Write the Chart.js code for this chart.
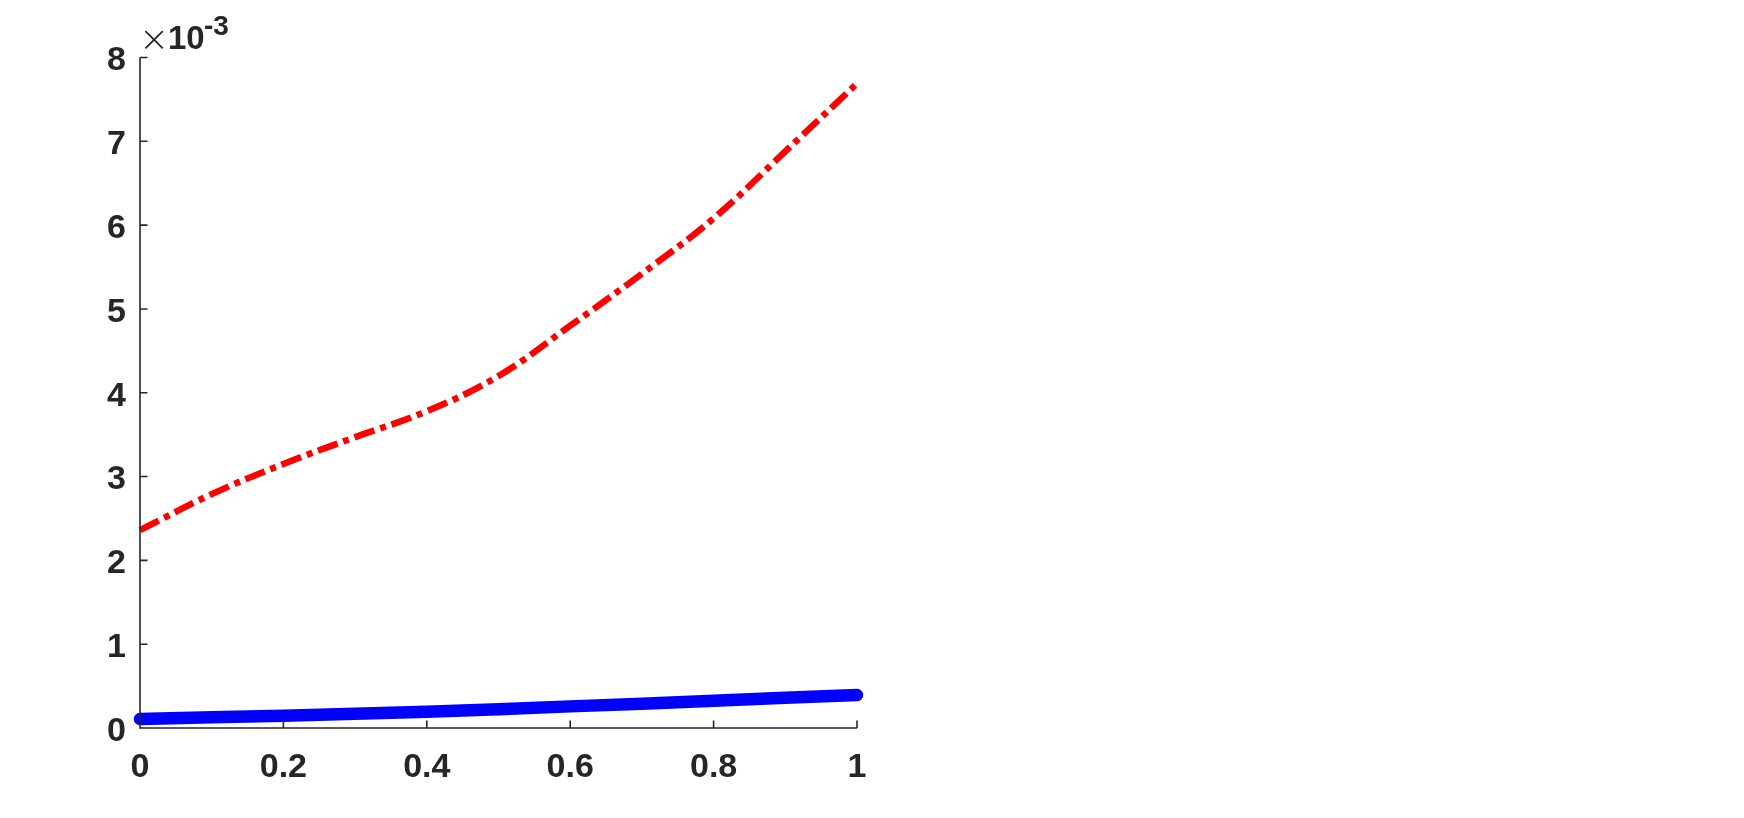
<!DOCTYPE html>
<html>
<head>
<meta charset="utf-8">
<script src="https://cdn.jsdelivr.net/npm/chart.js@4/dist/chart.umd.min.js"></script>
<style>
  html, body { margin: 0; padding: 0; background: #ffffff; }
  #wrap { width: 1744px; height: 818px; position: relative; }
</style>
</head>
<body>
<div id="wrap"><canvas id="c" width="1744" height="818"></canvas></div>
<script>
// ---- data (y values in units of 10^-3) ----
const Y_EXPONENT = -3;
const redX   = [0, 0.1, 0.2, 0.3, 0.4, 0.5, 0.6, 0.7, 0.8, 0.9, 1.0];
const redY   = [2.36, 2.79, 3.15, 3.47, 3.78, 4.20, 4.80, 5.42, 6.08, 6.88, 7.69];
const blueX  = [0, 0.1, 0.2, 0.3, 0.4, 0.5, 0.6, 0.7, 0.8, 0.9, 1.0];
const blueY  = [0.107, 0.127, 0.147, 0.170, 0.195, 0.225, 0.258, 0.290, 0.325, 0.360, 0.394];
const xTicks = [0, 0.2, 0.4, 0.6, 0.8, 1];
const xTickLabels = ['0', '0.2', '0.4', '0.6', '0.8', '1'];
const yTicks = [0, 1, 2, 3, 4, 5, 6, 7, 8];
const yTickLabels = ['0', '1', '2', '3', '4', '5', '6', '7', '8'];

const AXIS_COLOR = '#262626';
const FONT = '"Liberation Sans", Arial, Helvetica, sans-serif';

const axesPlugin = {
  id: 'matlabAxes',
  afterDatasetsDraw(chart) {
    const ctx = chart.ctx;
    const xs = chart.scales.x, ys = chart.scales.y;
    const L = xs.getPixelForValue(0), R = xs.getPixelForValue(1);
    const B = ys.getPixelForValue(0), T = ys.getPixelForValue(8);
    const tl = 7.5;
    ctx.save();
    ctx.strokeStyle = AXIS_COLOR;
    ctx.lineWidth = 1.6;
    ctx.beginPath();
    ctx.moveTo(L, T); ctx.lineTo(L, B); ctx.lineTo(R, B);
    xTicks.forEach(v => { const p = xs.getPixelForValue(v); ctx.moveTo(p, B); ctx.lineTo(p, B - tl); });
    yTicks.forEach(v => { const p = ys.getPixelForValue(v); ctx.moveTo(L, p); ctx.lineTo(L + tl, p); });
    ctx.stroke();
    // exponent label
    ctx.fillStyle = AXIS_COLOR;
    ctx.textBaseline = 'alphabetic';
    ctx.textAlign = 'left';
    ctx.font = '300 36px "DejaVu Sans", ' + FONT;
    ctx.fillText('\u00D7', 139, 51);
    ctx.font = 'bold 33px ' + FONT;
    ctx.fillText('10', 168, 49);
    ctx.font = 'bold 28px ' + FONT;
    ctx.fillText(String(Y_EXPONENT), 204, 35);
    ctx.restore();
  }
};

new Chart(document.getElementById('c'), {
  type: 'line',
  data: {
    datasets: [
      {
        label: 'blue',
        data: blueX.map((x, i) => ({ x: x, y: blueY[i] })),
        borderColor: '#0000ff',
        backgroundColor: '#0000ff',
        borderWidth: 12.5,
        borderCapStyle: 'round',
        borderJoinStyle: 'round',
        pointRadius: 0,
        tension: 0,
        clip: 10
      },
      {
        label: 'red',
        data: redX.map((x, i) => ({ x: x, y: redY[i] })),
        borderColor: '#ff0000',
        backgroundColor: '#ff0000',
        borderWidth: 6.5,
        borderDash: [21, 6, 6, 6],
        borderCapStyle: 'butt',
        pointRadius: 0,
        tension: 0.4,
        clip: 10
      }
    ]
  },
  options: {
    responsive: false,
    animation: false,
    events: [],
    layout: { padding: { left: 0, right: 887, top: 57.5, bottom: 0 } },
    plugins: { legend: { display: false }, tooltip: { enabled: false } },
    scales: {
      x: {
        type: 'linear', min: 0, max: 1,
        afterBuildTicks: s => { s.ticks = xTicks.map(v => ({ value: v })); },
        afterFit: s => { s.height = 90; },
        grid: { display: false, drawTicks: false },
        border: { display: false },
        ticks: {
          color: AXIS_COLOR, padding: 19, maxRotation: 0,
          font: { family: FONT, size: 34, weight: 'bold' },
          callback: (v) => xTickLabels[xTicks.indexOf(v)]
        }
      },
      y: {
        type: 'linear', min: 0, max: 8,
        afterBuildTicks: s => { s.ticks = yTicks.map(v => ({ value: v })); },
        afterFit: s => { s.width = 140; },
        grid: { display: false, drawTicks: false },
        border: { display: false },
        ticks: {
          color: AXIS_COLOR, padding: 14, labelOffset: 3.5,
          font: { family: FONT, size: 34, weight: 'bold' },
          callback: (v) => yTickLabels[yTicks.indexOf(v)]
        }
      }
    }
  },
  plugins: [axesPlugin]
});
</script>
</body>
</html>
